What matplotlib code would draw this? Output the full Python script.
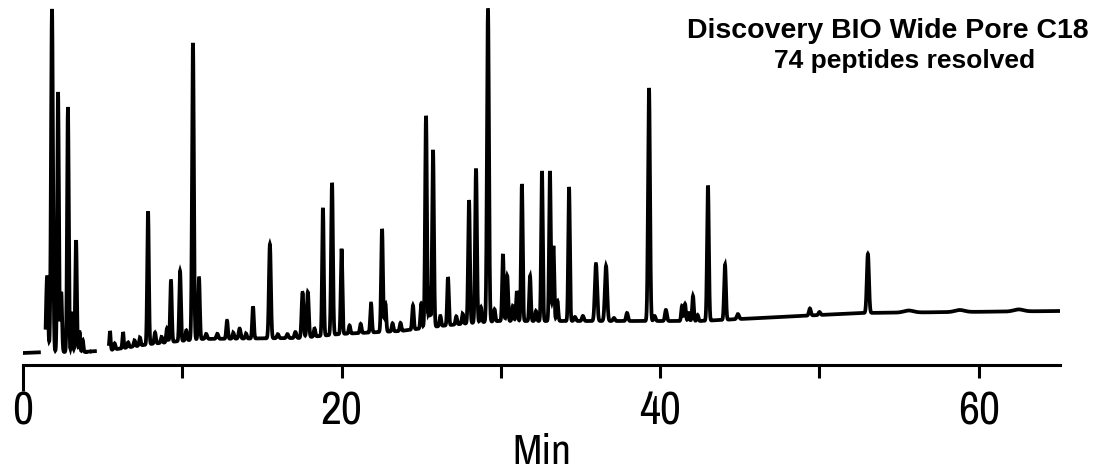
import numpy as np
import matplotlib.pyplot as plt

# baseline drift of the detector trace (min, response)
base_t = [0, 1.5, 3.8, 5.5, 8.0, 11.1, 17.4, 19.9, 23.7, 26.2, 28.1, 29.9,
          33.7, 37.5, 42.5, 46.3, 48.8, 52.5, 65.1]
base_v = [12, 13, 13, 15, 21, 26, 27, 31, 34, 39, 42, 44,
          44, 44, 44, 47, 49, 52, 54]

# peak table: retention time (min), height above baseline, width (sigma, min)
peak_t = [1.51, 1.82, 2.20, 2.40, 2.82, 3.08, 3.33, 3.55, 3.75,
          5.46, 5.75, 6.28, 6.60, 7.00, 7.34, 7.85, 8.29, 8.70, 9.04, 9.29, 9.86,
          10.25, 10.67, 11.05, 11.50, 12.20, 12.81, 13.20, 13.60, 14.00, 14.44,
          15.50, 16.00, 16.60, 17.10, 17.55, 17.88, 18.30, 18.83, 19.40, 20.00,
          20.50, 21.20, 21.85, 22.54, 22.75, 23.20, 23.70, 24.48, 25.00, 25.30,
          25.52, 25.74, 26.20, 26.68, 27.20, 27.60, 28.00, 28.44, 28.75, 29.19,
          29.60, 30.13, 30.40, 30.75, 31.00, 31.32, 31.83, 32.20, 32.58, 33.08,
          33.30, 33.55, 34.28, 34.65, 35.15, 35.97, 36.60, 37.10, 37.92, 39.30,
          39.65, 40.36, 41.37, 41.56, 41.80, 42.06, 42.35, 43.00, 44.07, 44.88,
          49.40, 50.00, 53.04, 55.60, 58.80, 62.50]
peak_h = [75, 343, 260, 60, 245, 40, 112, 20, 12,
          19, 6, 16, 5, 6, 8, 133, 11, 6, 14, 61, 70,
          10, 297, 61, 5, 5, 18, 6, 10, 5, 32,
          94, 4, 4, 6, 45, 45, 8, 128, 152, 85,
          8, 9, 29, 103, 28, 8, 8, 24, 25, 212,
          40, 177, 10, 48, 8, 10, 123, 154, 15, 312,
          12, 67, 45, 15, 30, 137, 45, 10, 150, 150,
          75, 20, 134, 4, 5, 57, 55, 3, 8, 233,
          5, 11, 15, 17, 8, 25, 6, 135, 55, 5,
          7, 3, 59, 2, 2, 2]
peak_w = [0.06, 0.06, 0.05, 0.05, 0.05, 0.04, 0.05, 0.04, 0.04,
          0.04, 0.05, 0.04, 0.05, 0.05, 0.05, 0.05, 0.05, 0.05, 0.05, 0.05, 0.05,
          0.05, 0.055, 0.05, 0.06, 0.06, 0.05, 0.05, 0.06, 0.05, 0.05,
          0.06, 0.06, 0.06, 0.06, 0.06, 0.06, 0.05, 0.05, 0.055, 0.05,
          0.05, 0.05, 0.05, 0.055, 0.05, 0.05, 0.05, 0.05, 0.05, 0.055,
          0.04, 0.055, 0.05, 0.05, 0.05, 0.05, 0.055, 0.055, 0.05, 0.06,
          0.05, 0.05, 0.05, 0.05, 0.05, 0.05, 0.05, 0.05, 0.05, 0.05,
          0.05, 0.05, 0.05, 0.06, 0.06, 0.07, 0.07, 0.06, 0.06, 0.06,
          0.06, 0.06, 0.05, 0.05, 0.05, 0.05, 0.05, 0.055, 0.055, 0.07,
          0.06, 0.06, 0.065, 0.3, 0.3, 0.3]

# stretches where the recorded trace is broken
gaps = [(1.0, 1.42), (3.92, 4.02), (4.17, 4.32), (4.52, 5.40)]

x_ticks = [0, 20, 40, 60]

t = np.arange(0, 65.1, 0.004)
signal = np.interp(t, base_t, base_v)
for pt, ph, pw in zip(peak_t, peak_h, peak_w):
    signal = signal + ph * np.exp(-0.5 * ((t - pt) / pw) ** 2)
for g0, g1 in gaps:
    signal[(t > g0) & (t < g1)] = np.nan

plt.rcParams['font.family'] = ['Archivo Narrow', 'Liberation Sans', 'DejaVu Sans']

fig = plt.figure(figsize=(10.93, 4.75), dpi=100)
ax = fig.add_axes([23 / 1093, 110 / 475, 1037 / 1093, 365 / 475])

ax.plot(t, signal, color='black', linewidth=2.7, solid_joinstyle='miter')

ax.set_xlim(0, 65.1)
ax.set_ylim(0, 365)
for side in ['left', 'right', 'top']:
    ax.spines[side].set_visible(False)
ax.spines['bottom'].set_linewidth(2.2)
ax.set_yticks([])

ax.set_xticks(x_ticks)
ax.set_xticks(range(10, 61, 20), minor=True)
ax.tick_params(axis='x', which='both', direction='out', width=2.2, length=9.5)
ax.tick_params(axis='x', which='major', labelsize=33, pad=9)
ax.xaxis.get_major_ticks()[0].tick1line.set_markersize(19)
ax.set_xlabel('Min', fontsize=31, labelpad=0)

fig.text(888 / 1093, 1 - 38 / 475, 'Discovery BIO Wide Pore C18',
         family=['Liberation Sans', 'DejaVu Sans'], fontweight='bold', fontsize=20.5,
         ha='center', va='baseline')
fig.text(905 / 1093, 1 - 68 / 475, '74 peptides resolved',
         family=['Liberation Sans', 'DejaVu Sans'], fontweight='bold', fontsize=19,
         ha='center', va='baseline')

fig.savefig('out.png', dpi=100)
